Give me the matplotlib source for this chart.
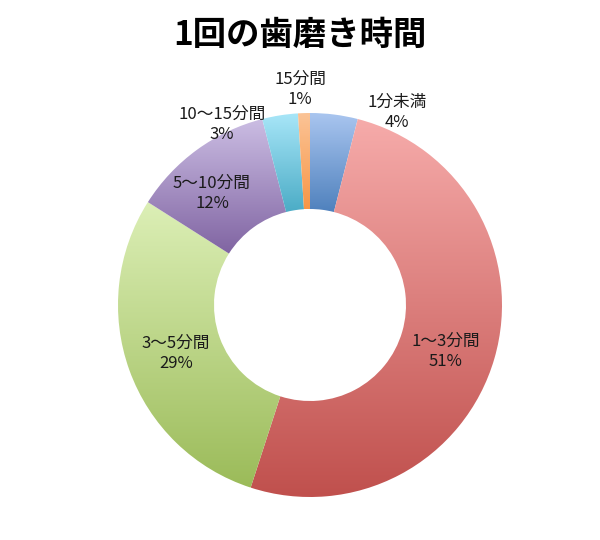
import matplotlib.pyplot as plt
import numpy as np
from matplotlib.colors import to_rgb

plt.rcParams['font.family'] = ['Noto Sans CJK JP', 'DejaVu Sans']

labels = ['1分未満', '1〜3分間', '3〜5分間', '5〜10分間', '10〜15分間', '15分間']
values = [4, 51, 29, 12, 3, 1]
# gradient colours per slice: light (top) -> dark (bottom)
top_colors = ['#aac6f0', '#f6abaa', '#dcefb6', '#cbbde3', '#a8e6f8', '#fbc497']
bottom_colors = ['#4f81bd', '#c0504d', '#9bbb59', '#8064a2', '#4bacc6', '#f79646']
# label centres in pixel coordinates of the 600x540 picture
label_px = [(397, 112), (446, 351), (176, 353), (212, 193), (222, 124), (300, 89)]

cx, cy, R = 310, 305, 192

fig = plt.figure(figsize=(6, 5.4), dpi=100)
ax = fig.add_axes([0, 0, 1, 1])
ax.axis('off')

wedges, _ = ax.pie(values, startangle=90, counterclock=False, radius=1.0,
                   wedgeprops=dict(width=0.5, edgecolor='none'))

for w, c0, c1 in zip(wedges, top_colors, bottom_colors):
    w.set_facecolor('none')
    w.set_linewidth(0)
    bb = w.get_path().get_extents()
    t = np.linspace(0, 1, 200)[:, None, None]
    grad = (1 - t) * np.array(to_rgb(c0)) + t * np.array(to_rgb(c1))
    im = ax.imshow(grad, extent=(bb.x0, bb.x1, bb.y0, bb.y1), origin='upper',
                   aspect='auto', zorder=1, interpolation='bilinear')
    im.set_clip_path(w)

ax.set_xlim((0 - cx) / R, (600 - cx) / R)
ax.set_ylim((cy - 540) / R, (cy - 0) / R)
ax.set_aspect('auto')

for lab, v, (px, py) in zip(labels, values, label_px):
    ax.text((px - cx) / R, (cy - py) / R, f'{lab}\n{v}%', ha='center', va='center',
            fontsize=12, color='#1a1a1a', linespacing=1.25, zorder=3)

fig.text(0.5, 1 - 35 / 540, '1回の歯磨き時間', ha='center', va='center',
         fontsize=24, fontweight='bold')

fig.savefig('out.png', dpi=100)
